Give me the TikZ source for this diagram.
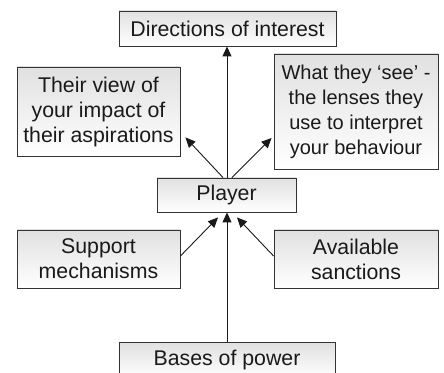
\documentclass[tikz,border=0pt]{standalone}
\usepackage{fontspec}
\setmainfont{Liberation Sans}
\usetikzlibrary{arrows.meta,calc}
\definecolor{txt}{HTML}{1A1A1A}
\definecolor{edge}{HTML}{333333}
\tikzset{
  box/.style={draw=edge, line width=0.9pt, top color=black!12, bottom color=white,
    inner sep=0pt, align=center, text=txt,
    font=\fontsize{21.3}{25}\selectfont},
  conn/.style={draw=black!90, line width=0.9pt, -{Triangle[length=10pt,width=9pt]}}
}
\begin{document}
\begin{tikzpicture}[x=1pt,y=1pt]
\useasboundingbox (0,0) rectangle (444,372);
\clip (0,0) rectangle (444,372);
\node[box, minimum width=217pt, minimum height=35pt] (dir) at (227.5,343.5) {Directions of interest};
\node[box, minimum width=163pt, minimum height=89pt] (tv) at (98.5,260.5) {Their view of\\your impact of\\their aspirations};
\node[box, minimum width=164pt, minimum height=115pt, font=\fontsize{20}{25}\selectfont] (ws) at (356,260.5) {What they ‘see’ -\\the lenses they\\use to interpret\\your behaviour};
\node[box, minimum width=139pt, minimum height=34pt] (pl) at (226.5,177) {Player};
\node[box, minimum width=163pt, minimum height=58pt] (sm) at (98.5,113) {Support\\mechanisms};
\node[box, minimum width=164pt, minimum height=58pt] (as) at (356,113) {Available\\sanctions};
\node[box, minimum width=216pt, minimum height=36pt] (bp) at (227,12) {Bases of power};
\draw[conn] ($(pl.north)+(0.5,0)$) -- ($(dir.south)+(-0.5,0)$);
\draw[conn] ($(pl.north)+(-3.5,0)$) -- ($(tv.south east)+(5,19)$);
\draw[conn] ($(pl.north)+(5.5,0)$) -- ($(ws.west)+(-2,-26.5)$);
\draw[conn] ($(bp.north)+(0,0)$) -- ($(pl.south)+(0.5,0)$);
\draw[conn] ($(sm.east)+(0,3)$) -- ($(pl.south)+(-8.5,-5)$);
\draw[conn] ($(as.west)+(0,3)$) -- ($(pl.south)+(10.5,-5)$);
\end{tikzpicture}
\end{document}
